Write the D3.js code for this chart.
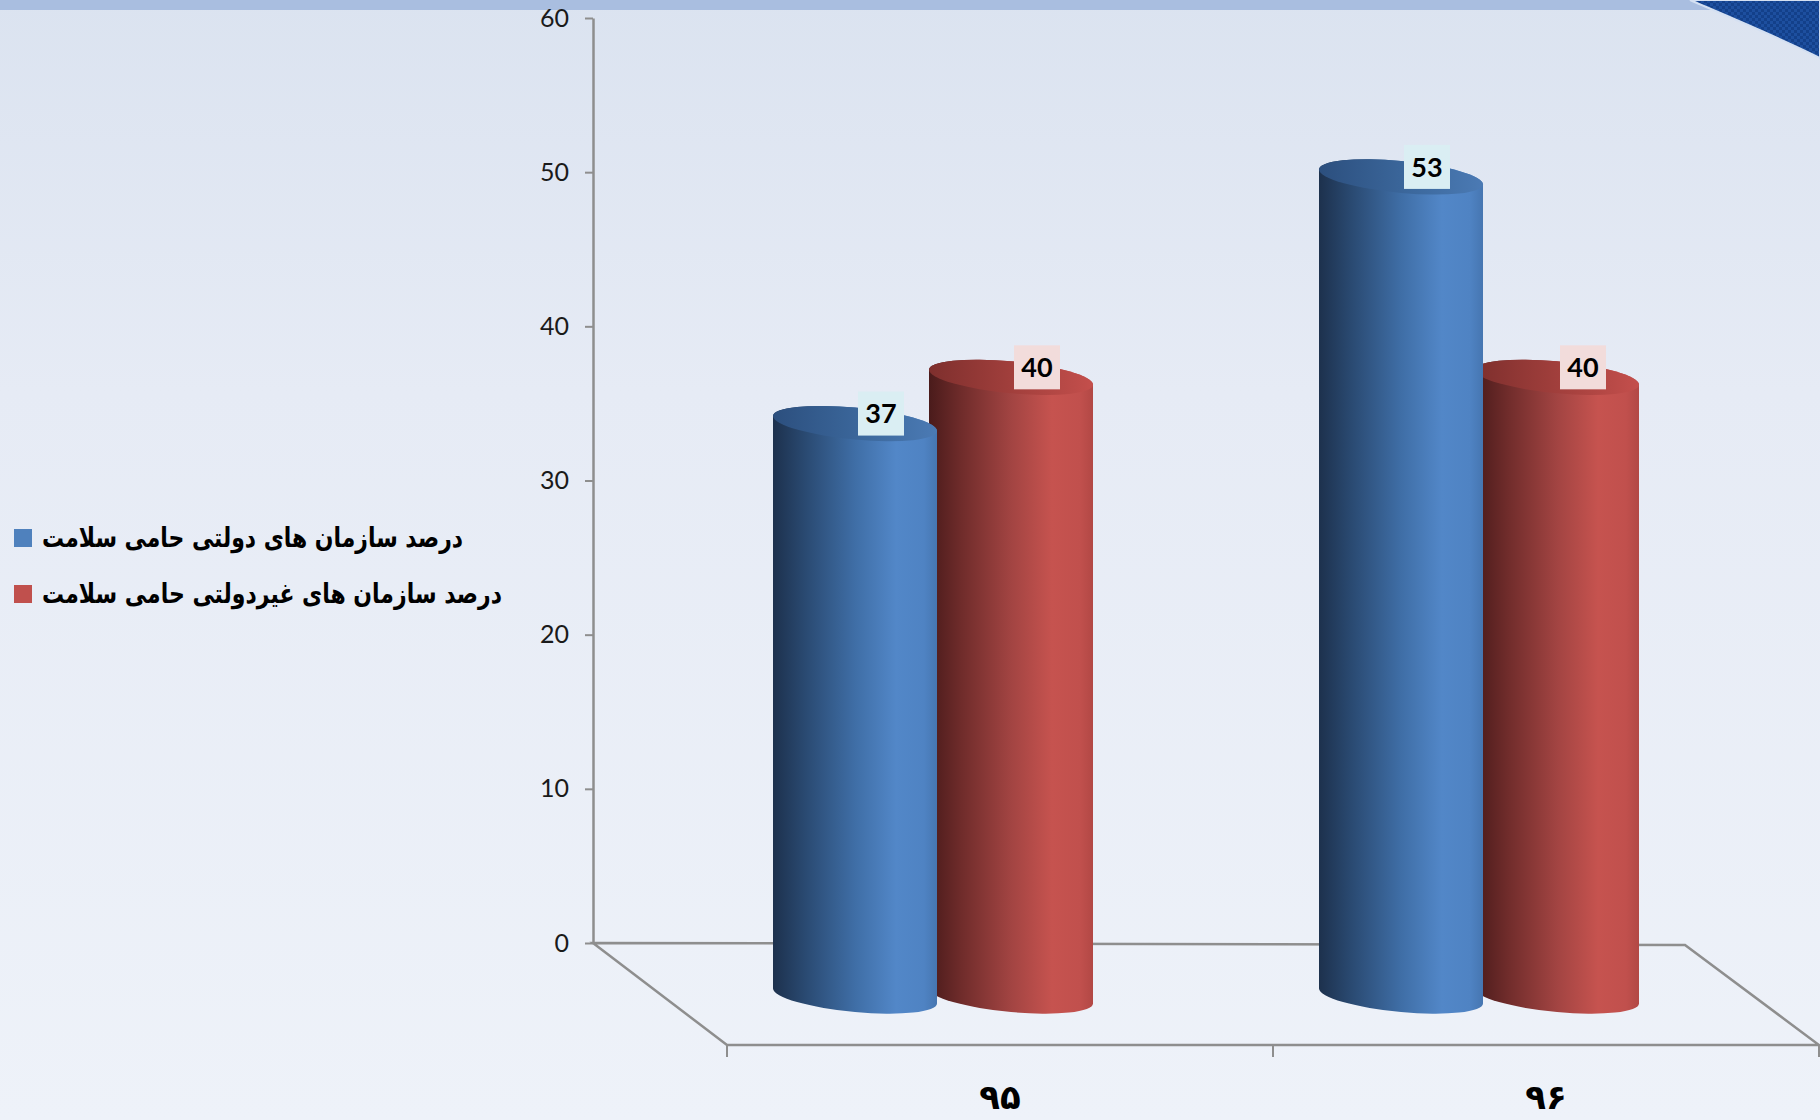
<!DOCTYPE html>
<html>
<head>
<meta charset="utf-8">
<script src="https://cdn.jsdelivr.net/npm/d3@7/dist/d3.min.js"></script>
<style>
  html, body { margin: 0; padding: 0; background: #eef2f9; }
  svg { display: block; }
</style>
</head>
<body>
<svg id="chart" width="1820" height="1120"></svg>
<script>
// data
const categories = ["۹۵", "۹۶"]
const seriesNames = [
	"درصد سازمان های دولتی حامی سلامت",
	"درصد سازمان های غیردولتی حامی سلامت",
]
const govValues = [37, 53]
const nonGovValues = [40, 40]
const yTicks = [0, 10, 20, 30, 40, 50, 60]

const width = 1820
const height = 1120

const margin = { top: 18, left: 593, right: 135, floor: 943 }
// depth of the 3d floor (oblique projection)
const depth = { dx: 134, dy: 102 }

const colors = {
	blue: "#4f81bd",
	red: "#c0504d",
	axis: "#8e8e8e",
	labelBlue: "#daeef3",
	labelRed: "#f2dcdb",
}

const svg = d3.select("#chart")
const defs = svg.append("defs")

// background gradient
const bg = defs.append("linearGradient").attr("id", "bg").attr("x1", 0).attr("y1", 0).attr("x2", 0).attr("y2", 1)
bg.append("stop").attr("offset", 0).attr("stop-color", "#dbe3f0")
bg.append("stop").attr("offset", 0.35).attr("stop-color", "#e6ebf5")
bg.append("stop").attr("offset", 1).attr("stop-color", "#eef2f9")

// checker for the corner swoosh
const pat = defs.append("pattern").attr("id", "checker").attr("width", 6).attr("height", 6).attr("patternUnits", "userSpaceOnUse")
pat.append("rect").attr("width", 6).attr("height", 6).attr("fill", "#1d4f9f")
pat.append("rect").attr("width", 3).attr("height", 3).attr("fill", "#13408a")
pat.append("rect").attr("x", 3).attr("y", 3).attr("width", 3).attr("height", 3).attr("fill", "#13408a")

function hGrad(id, stops) {
	const g = defs.append("linearGradient").attr("id", id).attr("x1", 0).attr("y1", 0).attr("x2", 1).attr("y2", 0)
	stops.forEach(([o, c]) => g.append("stop").attr("offset", o).attr("stop-color", c))
}
hGrad("blueBody", [[0, "#1d314d"], [0.2, "#2a4a72"], [0.5, "#3f6ea6"], [0.75, "#5287c8"], [0.92, "#4f83c3"], [1, "#4676b1"]])
hGrad("redBody", [[0, "#4a1b1b"], [0.2, "#702c2b"], [0.5, "#a24442"], [0.75, "#c6534f"], [0.92, "#c1504d"], [1, "#b24845"]])
hGrad("blueTop", [[0, "#2c4f7e"], [0.6, "#3d6a9f"], [1, "#4b7ab4"]])
hGrad("redTop", [[0, "#7e2f2d"], [0.6, "#a8423f"], [1, "#c44f4c"]])

svg.append("rect").attr("width", width).attr("height", height).attr("fill", "url(#bg)")

// top band and corner
svg.append("rect").attr("x", 0).attr("y", 0).attr("width", width).attr("height", 10).attr("fill", "#a9bee0")
svg.append("path")
	.attr("d", "M1690,0 C1732,18 1780,38 1820,58 L1820,0 Z")
	.attr("fill", "url(#checker)")
	.attr("stroke", "#d4e0f2")
	.attr("stroke-width", 2)

// scales
const y = d3.scaleLinear().domain([0, 60]).range([margin.floor, margin.top])
const x0 = d3.scaleBand().domain(categories).range([margin.left, width - margin.right])
const xs = d3.scaleBand()
	.domain([0, 1])
	.range([x0.bandwidth() / 2 - 156, x0.bandwidth() / 2 + 156])

// floor
const floorY = y(0)
const floor = svg.append("g").attr("fill", "none").attr("stroke", colors.axis)
const x0L = x0.range()[0], x0R = x0.range()[1]
floor.append("path")
	.attr("stroke-width", 2.5)
	.attr("d", `M${x0L},${floorY} L${x0R},${floorY + 2} L${x0R + depth.dx},${floorY + depth.dy} L${x0L + depth.dx},${floorY + depth.dy} Z`)
// front ticks
floor.selectAll("line.ftick")
	.data([...categories.map((c) => x0(c)), x0R])
	.join("line")
	.attr("class", "ftick")
	.attr("stroke-width", 2)
	.attr("x1", (d) => d + depth.dx)
	.attr("x2", (d) => d + depth.dx)
	.attr("y1", floorY + depth.dy)
	.attr("y2", floorY + depth.dy + 12)

// y axis
const yAxis = svg.append("g")
	.attr("transform", `translate(${margin.left},0)`)
	.call(d3.axisLeft(y).tickValues(yTicks).tickSize(8).tickSizeOuter(0).tickPadding(16))
yAxis.select(".domain").attr("stroke", colors.axis).attr("stroke-width", 2.5)
yAxis.selectAll(".tick line").attr("stroke", colors.axis).attr("stroke-width", 2)
yAxis.selectAll(".tick text")
	.attr("fill", "#1a1a1a")
	.style("font-family", "Lato, 'Open Sans', sans-serif")
	.style("font-size", "25px")

// bars
const rx = 82
const ry = 16
const skew = 5.2
const bars = []
categories.forEach((c, ci) => {
	;[govValues[ci], nonGovValues[ci]].forEach((v, si) => {
		bars.push({ cat: c, series: si, value: v })
	})
})
// draw back (red) first, then front (blue) for each category
bars.sort((a, b) => d3.ascending(a.cat, b.cat) || d3.descending(a.series, b.series))

const barCx = (d) => x0(d.cat) + xs(d.series) + xs.bandwidth() / 2 + depth.dx / 2
const barTop = (d) => y(d.value) + depth.dy / 2
const barBot = () => y(0) + depth.dy / 2 + 2

const barG = svg.append("g")
	.selectAll("g.bar")
	.data(bars)
	.join("g")
	.attr("class", "bar")
	.attr("transform", (d) => `translate(${barCx(d)},0) skewY(${skew})`)

barG.append("path")
	.attr("fill", (d) => (d.series === 0 ? "url(#blueBody)" : "url(#redBody)"))
	.attr("d", (d) => {
		const t = barTop(d), b = barBot()
		return `M${-rx},${t} L${-rx},${b} A${rx},${ry} 0 0 0 ${rx},${b} L${rx},${t} A${rx},${ry} 0 0 0 ${-rx},${t} Z`
	})

barG.append("ellipse")
	.attr("cx", 0)
	.attr("cy", (d) => barTop(d))
	.attr("rx", rx)
	.attr("ry", ry)
	.attr("fill", (d) => (d.series === 0 ? "url(#blueTop)" : "url(#redTop)"))

// value labels
const lbl = svg.append("g")
	.selectAll("g.lbl")
	.data(bars)
	.join("g")
	.attr("class", "lbl")
	.attr("transform", (d) => `translate(${barCx(d) + 26},${barTop(d) - 10})`)
lbl.append("rect")
	.attr("x", -23)
	.attr("y", -22)
	.attr("width", 46)
	.attr("height", 44)
	.attr("fill", (d) => (d.series === 0 ? colors.labelBlue : colors.labelRed))
lbl.append("text")
	.attr("text-anchor", "middle")
	.attr("dy", "0.36em")
	.style("font-family", "Lato, 'Open Sans', sans-serif")
	.style("font-weight", "bold")
	.style("font-size", "27px")
	.attr("fill", "#000")
	.text((d) => d.value)

// category labels
svg.append("g")
	.selectAll("text")
	.data(categories)
	.join("text")
	.attr("x", (d) => x0(d) + x0.bandwidth() / 2 + depth.dx)
	.attr("y", 1097)
	.attr("dy", "0.35em")
	.attr("text-anchor", "middle")
	.style("font-family", "'DejaVu Sans', sans-serif")
	.style("font-weight", "bold")
	.style("font-size", "34px")
	.attr("fill", "#000")
	.text((d) => d)

// legend
const legendWidths = [421, 460]
const legend = svg.append("g")
	.selectAll("g")
	.data(seriesNames)
	.join("g")
	.attr("transform", (d, i) => `translate(14,${538 + i * 56})`)
legend.append("rect")
	.attr("x", 0)
	.attr("y", -9)
	.attr("width", 18)
	.attr("height", 18)
	.attr("fill", (d, i) => (i === 0 ? colors.blue : colors.red))
legend.append("text")
	.attr("x", 28)
	.attr("dy", "0.35em")
	.attr("textLength", (d, i) => legendWidths[i])
	.attr("lengthAdjust", "spacingAndGlyphs")
	.style("font-family", "'DejaVu Sans', sans-serif")
	.style("font-weight", "bold")
	.style("font-size", "27px")
	.attr("fill", "#000")
	.text((d) => d)
</script>
</body>
</html>
